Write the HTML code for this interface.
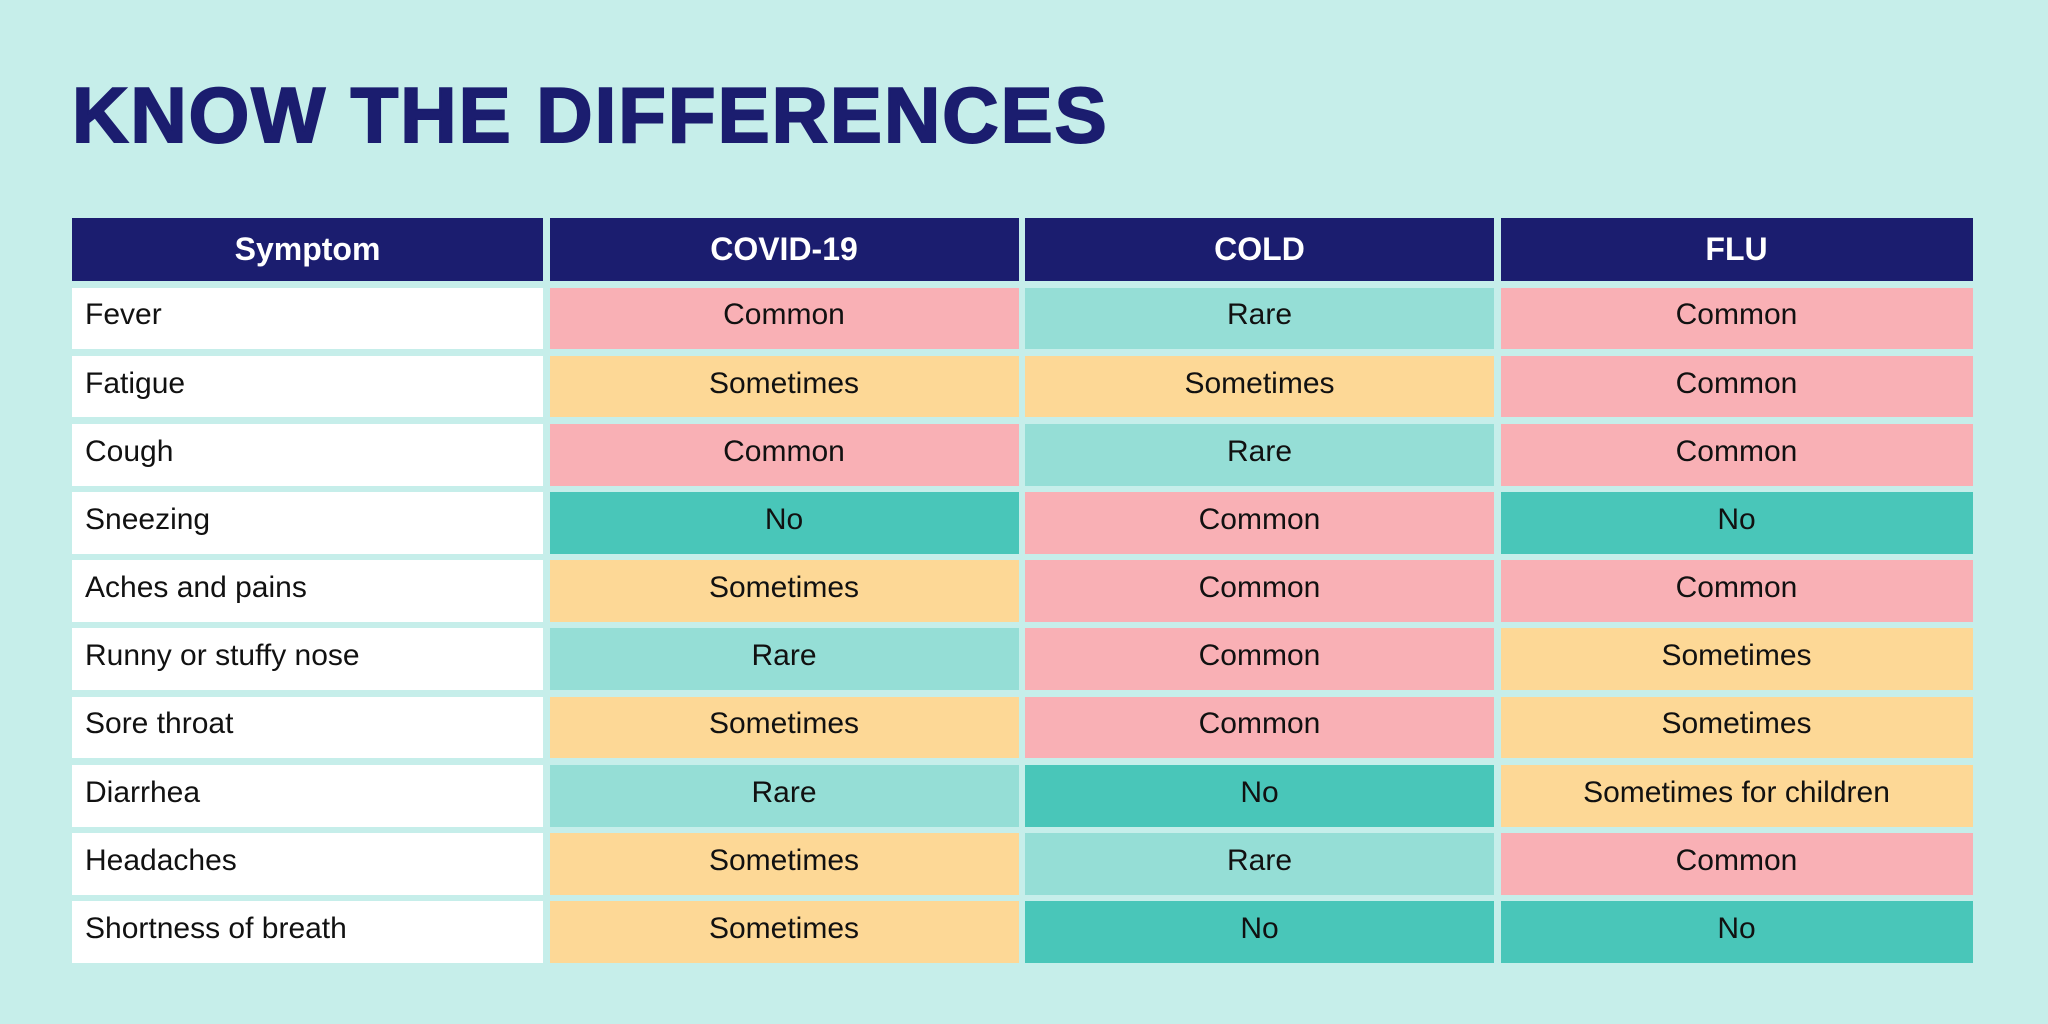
<!DOCTYPE html>
<html><head><meta charset="utf-8"><style>
body{margin:0;width:2048px;height:1024px;background:#c6eeea;font-family:"Liberation Sans",sans-serif;overflow:hidden;position:relative}
h1{position:absolute;left:72px;top:70px;margin:0;font-size:78px;font-weight:900;color:#1b1d6f;letter-spacing:2px;-webkit-text-stroke:2px #1b1d6f}
.t{position:absolute;left:72px;top:218px;display:grid;grid-template-columns:471px 469px 469px 472px;column-gap:6.5px;row-gap:6.5px;grid-template-rows:63px repeat(10,61.7px)}
.c{display:flex;align-items:center;justify-content:center;font-size:30px;color:#111;padding-bottom:6px;box-sizing:border-box}
.h{background:#1b1d6f;color:#fff;font-weight:bold;font-size:32px;padding-bottom:0}
.s{background:#fff;justify-content:flex-start;padding-left:13px}
.C{background:#f9b0b5}.S{background:#fdd896}.R{background:#95ded6}.N{background:#49c6b9}
</style></head><body>
<h1>KNOW THE DIFFERENCES</h1>
<div class="t" id="t"></div>
<script>
const headers=["Symptom","COVID-19","COLD","FLU"];
const symptoms=["Fever","Fatigue","Cough","Sneezing","Aches and pains","Runny or stuffy nose","Sore throat","Diarrhea","Headaches","Shortness of breath"];
const covid=["Common","Sometimes","Common","No","Sometimes","Rare","Sometimes","Rare","Sometimes","Sometimes"];
const cold=["Rare","Sometimes","Rare","Common","Common","Common","Common","No","Rare","No"];
const flu=["Common","Common","Common","No","Common","Sometimes","Sometimes","Sometimes for children","Common","No"];
const t=document.getElementById('t');
function cell(txt,cls,name){const d=document.createElement('div');d.className='c '+cls;d.textContent=txt;


t.appendChild(d);}
headers.forEach(h=>cell(h,'h','header-'+h.toLowerCase()));
const cl=v=>v.startsWith('Common')?'C':v.startsWith('Sometimes')?'S':v==='Rare'?'R':'N';
symptoms.forEach((s,i)=>{cell(s,'s','symptom-cell');
[covid,cold,flu].forEach((a,j)=>cell(a[i],cl(a[i]),['covid','cold','flu'][j]+'-cell'));});
</script>
</body></html>
